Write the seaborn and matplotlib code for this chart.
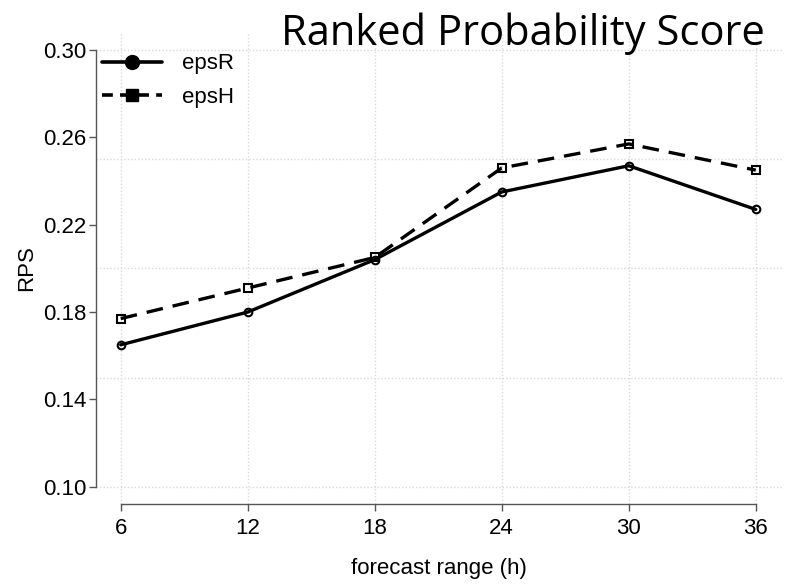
import numpy as np
import pandas as pd
import matplotlib
matplotlib.use("Agg")
import matplotlib.pyplot as plt
from matplotlib.lines import Line2D
import seaborn as sns

# ---- data ----
hours = [6, 12, 18, 24, 30, 36]
eps_r = [0.165, 0.180, 0.204, 0.235, 0.247, 0.227]
eps_h = [0.177, 0.191, 0.205, 0.246, 0.257, 0.245]
series_names = ["epsR", "epsH"]
y_ticks = [0.10, 0.14, 0.18, 0.22, 0.26, 0.30]
y_grid = [0.10, 0.15, 0.20, 0.25, 0.30]

df = pd.DataFrame({
    "hour": hours * 2,
    "rps": eps_r + eps_h,
    "series": [series_names[0]] * len(hours) + [series_names[1]] * len(hours),
})

sns.set_style("white")
plt.rcParams["font.family"] = ["Liberation Sans", "DejaVu Sans"]

fig = plt.figure(figsize=(7.88, 5.84), dpi=100)
ax = fig.add_axes([0.1215, 0.137, 0.9924 - 0.1215, 0.9435 - 0.137])

# grid
for g in y_grid:
    ax.axhline(g, color="#d9d9d9", lw=1.0, ls=(0, (1, 1.5)), zorder=0)
for h in hours:
    ax.axvline(h, color="#d9d9d9", lw=1.0, ls=(0, (1, 1.5)), zorder=0)

sns.lineplot(data=df, x="hour", y="rps", style="series",
             markers={"epsR": "o", "epsH": "s"},
             dashes={"epsR": "", "epsH": (5, 3)},
             color="black", lw=2.4, markersize=5.5, markeredgewidth=1.5,
             markeredgecolor="black", markerfacecolor="none",
             legend=False, ax=ax, zorder=3)

ax.set_xlim(4.82, 37.24)
ax.set_ylim(0.0921, 0.3078)
ax.set_xticks(hours)
ax.set_xticklabels([str(h) for h in hours])
ax.set_yticks(y_ticks)
ax.set_yticklabels([f"{v:.2f}" for v in y_ticks])

for side in ["top", "right"]:
    ax.spines[side].set_visible(False)
ax.spines["left"].set_bounds(0.10, 0.30)
ax.spines["bottom"].set_bounds(6, 36)
for side in ["left", "bottom"]:
    ax.spines[side].set_color("#555555")
    ax.spines[side].set_linewidth(1.0)

ax.tick_params(axis="both", direction="out", length=5, width=1.0,
               bottom=True, left=True,
               color="#555555", labelsize=16, labelcolor="black", pad=2)
ax.tick_params(axis="x", pad=5)

ax.set_xlabel("forecast range (h)", fontsize=16, labelpad=14, color="black")
ax.set_ylabel("RPS", fontsize=16, labelpad=4, color="black")

handles = [
    Line2D([], [], color="black", lw=2.6, marker="o", markersize=10, ls="-"),
    Line2D([], [], color="black", lw=2.6, marker="s", markersize=8, ls=(0, (3, 2))),
]
ax.legend(handles, series_names, loc="upper left", frameon=False,
          fontsize=16, handlelength=2.7, handletextpad=0.9,
          labelspacing=0.55, bbox_to_anchor=(-0.01, 0.985),
          borderaxespad=0.2, labelcolor="black")

fig.text(0.971, 1 - 45 / 584, "Ranked Probability Score",
         ha="right", va="baseline", fontsize=30, color="black",
         family=["Open Sans", "DejaVu Sans"])

fig.savefig("out.png", dpi=100)
